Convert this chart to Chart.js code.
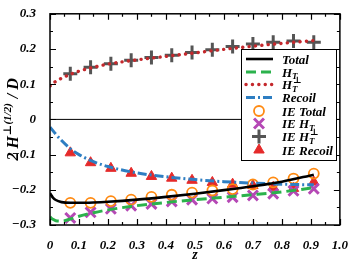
<!DOCTYPE html>
<html lang="en">
<head>
    <meta charset="UTF-8">
    <title>2H perp / D vs z</title>
    <script src="https://cdn.jsdelivr.net/npm/chart.js@4.4.1/dist/chart.umd.min.js"></script>
    <style>
        html, body { margin: 0; padding: 0; background: #fff; }
        #chartBox { width: 353px; height: 265px; }
    </style>
</head>
<body>
<div id="chartBox"><canvas id="chart" width="353" height="265"></canvas></div>
<script>
    // curves (model)
    const zCurve = [0, 0.01, 0.02, 0.04, 0.07, 0.1, 0.15, 0.2, 0.3, 0.4, 0.5, 0.6, 0.7, 0.8, 0.91];
    const totalCurve = [-0.210, -0.222, -0.229, -0.235, -0.237, -0.237, -0.236, -0.234, -0.228, -0.220, -0.211, -0.201, -0.190, -0.177, -0.157];
    const htCurve = [-0.277, -0.284, -0.288, -0.289, -0.283, -0.275, -0.265, -0.257, -0.245, -0.236, -0.228, -0.221, -0.214, -0.206, -0.194];
    const htPerpCurve = [0.095, 0.102, 0.108, 0.117, 0.128, 0.137, 0.148, 0.157, 0.169, 0.179, 0.189, 0.199, 0.208, 0.216, 0.224];
    const recoilCurve = [-0.022, -0.032, -0.042, -0.060, -0.083, -0.100, -0.120, -0.134, -0.152, -0.163, -0.171, -0.177, -0.181, -0.184, -0.186];

    // IE points
    const zPoints = [0.07, 0.14, 0.21, 0.28, 0.35, 0.42, 0.49, 0.56, 0.63, 0.70, 0.77, 0.84, 0.91];
    const ieTotal = [-0.237, -0.237, -0.232, -0.228, -0.220, -0.214, -0.208, -0.202, -0.198, -0.185, -0.179, -0.168, -0.154];
    const ieHt = [-0.280, -0.264, -0.254, -0.245, -0.240, -0.233, -0.228, -0.225, -0.221, -0.216, -0.211, -0.203, -0.197];
    const ieHtPerp = [0.130, 0.148, 0.158, 0.168, 0.176, 0.182, 0.190, 0.198, 0.207, 0.214, 0.219, 0.223, 0.219];
    const ieRecoil = [-0.095, -0.123, -0.139, -0.153, -0.162, -0.167, -0.173, -0.179, -0.184, -0.188, -0.193, -0.196, -0.178];

    const xTickLabels = ['0', '0.1', '0.2', '0.3', '0.4', '0.5', '0.6', '0.7', '0.8', '0.9', '1.0'];
    const yTickLabels = ['\u22120.3', '\u22120.2', '\u22120.1', '0', '0.1', '0.2', '0.3'];

    // legend text: each entry is a list of pieces (sub / sup)
    const legendLabels = [
        [{ t: 'Total' }],
        [{ t: 'H' }, { sub: 'T' }],
        [{ t: 'H' }, { sub: 'T', sup: '\u22a5' }],
        [{ t: 'Recoil' }],
        [{ t: 'IE Total' }],
        [{ t: 'IE H' }, { sub: 'T' }],
        [{ t: 'IE H' }, { sub: 'T', sup: '\u22a5' }],
        [{ t: 'IE Recoil' }]
    ];

    const SERIF = '"Liberation Serif", "DejaVu Serif", serif';

    const toXY = (xs, ys) => xs.map((x, i) => ({ x: x, y: ys[i] }));

    function lineSet(label, ys, color, dash, width, cap) {
        return {
            label: label,
            data: toXY(zCurve, ys),
            showLine: true,
            borderColor: color,
            backgroundColor: color,
            borderWidth: width,
            borderDash: dash,
            borderCapStyle: cap || 'butt',
            pointRadius: 0,
            cubicInterpolationMode: 'monotone',
            fill: false
        };
    }

    function pointSet(label, ys, color, style, radius, width, filled) {
        return {
            label: label,
            data: toXY(zPoints, ys),
            showLine: false,
            pointStyle: style,
            pointRadius: radius,
            pointBorderWidth: width,
            pointBorderColor: color,
            pointBackgroundColor: filled ? color : 'rgba(0,0,0,0)',
            borderColor: color,
            backgroundColor: filled ? color : 'rgba(0,0,0,0)'
        };
    }

    const datasets = [
        lineSet('Total', totalCurve, '#000000', [], 2.6),
        lineSet('H_T', htCurve, '#2bb24c', [10, 5], 3),
        lineSet('H_T perp', htPerpCurve, '#c4282c', [0.1, 6.3], 3.4, 'round'),
        lineSet('Recoil', recoilCurve, '#2e7ec2', [9, 3, 2, 3], 3),
        pointSet('IE Total', ieTotal, '#ff8a12', 'circle', 5, 1.8, false),
        pointSet('IE H_T', ieHt, '#b548b5', 'crossRot', 7, 3, false),
        pointSet('IE H_T perp', ieHtPerp, '#555555', 'cross', 7, 3, false),
        pointSet('IE Recoil', ieRecoil, '#e52a2a', 'triangle', 6, 1, true)
    ];

    // draw text pieces with sub/superscripts (baseline alphabetic), return width
    function drawRich(ctx, pieces, x, y, size) {
        let cx = x;
        pieces.forEach(p => {
            if (p.t) {
                ctx.font = 'italic bold ' + size + 'px ' + SERIF;
                ctx.fillText(p.t, cx, y);
                cx += ctx.measureText(p.t).width;
            } else {
                const s = Math.round(size * 0.68);
                ctx.font = 'italic bold ' + s + 'px ' + SERIF;
                let w = 0;
                if (p.sub) {
                    ctx.fillText(p.sub, cx, y + size * 0.22);
                    w = Math.max(w, ctx.measureText(p.sub).width);
                }
                if (p.sup) {
                    ctx.fillText(p.sup, cx + 1, y - size * 0.45);
                    w = Math.max(w, ctx.measureText(p.sup).width + 1);
                }
                cx += w + 1;
            }
        });
        return cx - x;
    }

    function richWidth(ctx, pieces, size) {
        let w = 0;
        pieces.forEach(p => {
            if (p.t) {
                ctx.font = 'italic bold ' + size + 'px ' + SERIF;
                w += ctx.measureText(p.t).width;
            } else {
                ctx.font = 'italic bold ' + Math.round(size * 0.68) + 'px ' + SERIF;
                w += Math.max(p.sub ? ctx.measureText(p.sub).width : 0,
                              p.sup ? ctx.measureText(p.sup).width + 1 : 0) + 1;
            }
        });
        return w;
    }

    const framePlugin = {
        id: 'frame',
        beforeDatasetsDraw(chart) {
            const { ctx, chartArea: a, scales } = chart;
            const y0 = scales.y.getPixelForValue(0);
            ctx.save();
            ctx.strokeStyle = '#000';
            ctx.lineWidth = 1;
            ctx.beginPath();
            ctx.moveTo(a.left, y0);
            ctx.lineTo(a.right, y0);
            ctx.stroke();
            ctx.restore();
        },
        afterDatasetsDraw(chart) {
            const { ctx, chartArea: a, scales } = chart;
            ctx.save();
            ctx.strokeStyle = '#000';
            ctx.lineWidth = 1.5;
            ctx.strokeRect(a.left, a.top, a.right - a.left, a.bottom - a.top);

            // inward ticks on all four sides, minor every 0.05
            ctx.lineWidth = 1.2;
            ctx.beginPath();
            for (let i = 0; i <= 20; i++) {
                const v = i * 0.05;
                const px = Math.round(scales.x.getPixelForValue(v)) + 0.5;
                const len = i % 2 === 0 ? 6 : 3;
                ctx.moveTo(px, a.bottom); ctx.lineTo(px, a.bottom - len);
                ctx.moveTo(px, a.top); ctx.lineTo(px, a.top + len);
            }
            for (let i = 0; i <= 12; i++) {
                const v = -0.3 + i * 0.05;
                const py = Math.round(scales.y.getPixelForValue(v)) + 0.5;
                const len = i % 2 === 0 ? 6 : 3;
                ctx.moveTo(a.left, py); ctx.lineTo(a.left + len, py);
                ctx.moveTo(a.right, py); ctx.lineTo(a.right - len, py);
            }
            ctx.stroke();

            // legend box
            const bx = 241, by = 49, bw = 95, bh = 111;
            ctx.fillStyle = '#fff';
            ctx.fillRect(bx, by, bw, bh);
            ctx.lineWidth = 1;
            ctx.strokeStyle = '#000';
            ctx.strokeRect(bx + 0.5, by + 0.5, bw, bh);

            const rowY = [59, 72, 84.5, 97.5, 111, 123.5, 136.5, 150];
            chart.data.datasets.forEach((ds, i) => {
                const y = rowY[i];
                if (ds.showLine) {
                    ctx.save();
                    ctx.strokeStyle = ds.borderColor;
                    ctx.lineWidth = ds.borderWidth;
                    ctx.setLineDash(ds.borderDash);
                    ctx.lineCap = ds.borderCapStyle;
                    ctx.beginPath();
                    ctx.moveTo(246, y);
                    ctx.lineTo(273, y);
                    ctx.stroke();
                    ctx.restore();
                } else {
                    ctx.save();
                    ctx.strokeStyle = ds.pointBorderColor;
                    ctx.fillStyle = ds.pointBackgroundColor;
                    ctx.lineWidth = ds.pointBorderWidth;
                    Chart.helpers.drawPoint(ctx, {
                        pointStyle: ds.pointStyle,
                        radius: ds.pointRadius,
                        borderWidth: ds.pointBorderWidth,
                        rotation: 0
                    }, 259, y);
                    ctx.restore();
                }
                ctx.fillStyle = '#000';
                ctx.textBaseline = 'alphabetic';
                ctx.textAlign = 'left';
                drawRich(ctx, legendLabels[i], 282, y + 4.5, 13);
            });

            // axis titles
            ctx.fillStyle = '#000';
            ctx.textBaseline = 'middle';
            ctx.textAlign = 'center';
            ctx.font = 'italic bold 14px ' + SERIF;
            ctx.fillText('z', (a.left + a.right) / 2, 255);

            ctx.save();
            ctx.translate(18, (a.top + a.bottom) / 2);
            ctx.rotate(-Math.PI / 2);
            ctx.textAlign = 'left';
            ctx.textBaseline = 'alphabetic';
            const titleParts = [{ t: '2 H' }, { sup: '\u22a5(1/2)' }, { t: ' / D' }];
            const tw = richWidth(ctx, titleParts, 16);
            drawRich(ctx, titleParts, -tw / 2, 0, 16);
            ctx.restore();
            ctx.restore();
        }
    };

    const tickFont = { family: SERIF, size: 13, style: 'italic', weight: 'bold' };

    new Chart(document.getElementById('chart'), {
        type: 'scatter',
        data: { datasets: datasets },
        options: {
            responsive: false,
            devicePixelRatio: 1,
            animation: false,
            layout: { padding: { top: 10, right: 8, left: 0, bottom: 0 } },
            plugins: {
                legend: { display: false },
                tooltip: { enabled: false }
            },
            scales: {
                x: {
                    type: 'linear',
                    min: 0,
                    max: 1,
                    grid: { display: false },
                    border: { display: false },
                    ticks: {
                        stepSize: 0.1,
                        padding: 5,
                        color: '#000',
                        font: tickFont,
                        maxRotation: 0,
                        callback: (v, i) => xTickLabels[i]
                    },
                    afterFit: s => { s.height = 40; }
                },
                y: {
                    type: 'linear',
                    min: -0.3,
                    max: 0.3,
                    grid: { display: false },
                    border: { display: false },
                    ticks: {
                        stepSize: 0.1,
                        padding: 6,
                        color: '#000',
                        font: tickFont,
                        callback: (v, i) => yTickLabels[i]
                    },
                    afterFit: s => { s.width = 50; }
                }
            }
        },
        plugins: [framePlugin]
    });
</script>
</body>
</html>
